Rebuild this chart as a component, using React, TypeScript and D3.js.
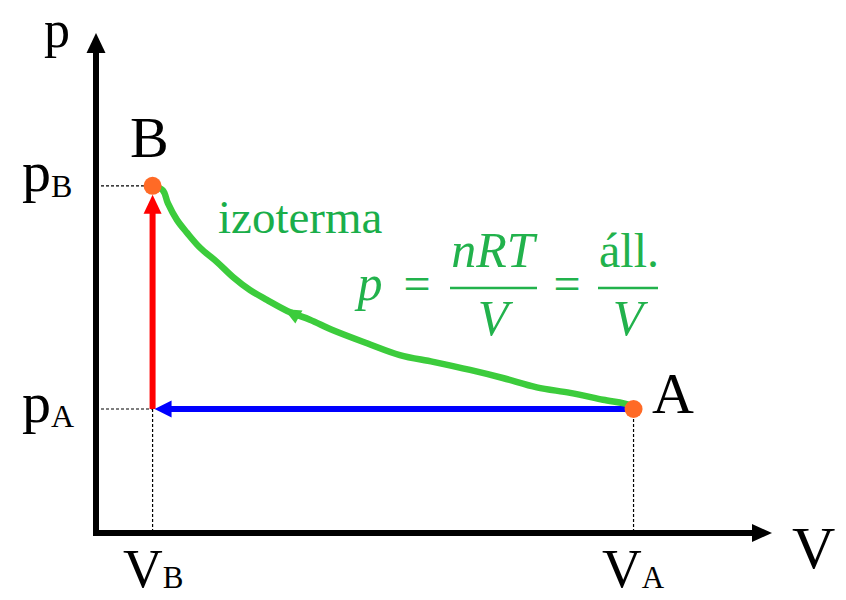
import React from "react";
import * as d3 from "d3";

// state points of the cycle (B = compressed, A = start)
const stateNames = ["B", "A"];
const stateV = [1, 9.5];
const stateP = [5.6, 2];

// isotherm, from B to A
const isoV = [1, 1.18, 1.27, 1.43, 1.61, 1.84, 2.14, 2.42, 2.72, 3.02, 3.43, 3.78, 4.19, 4.79, 5.37, 5.96, 6.61, 7.19, 7.79, 8.38, 8.96, 9.44, 9.5];
const isoP = [5.6, 5.53, 5.32, 5.05, 4.84, 4.6, 4.37, 4.13, 3.92, 3.76, 3.56, 3.44, 3.27, 3.06, 2.87, 2.76, 2.63, 2.5, 2.35, 2.26, 2.15, 2.06, 2];

// axis domains and labels
const vDomain = [0, 12];
const pDomain = [0, 8];
const axisLabels = ["V", "p"];
const curveLabel = "izoterma";

export default function App() {
  const x = d3.scaleLinear().domain(vDomain).range([96, 775]);
  const y = d3.scaleLinear().domain(pDomain).range([533, 37]);

  const iso = isoV.map((v, i) => [x(v), y(isoP[i])] as [number, number]);
  const line = d3.line().curve(d3.curveCatmullRom.alpha(0.5));

  const [vB, vA] = stateV;
  const [pB, pA] = stateP;
  const x0 = x(0), y0 = y(0);

  // little arrow on the isotherm pointing back to B
  const k = 10;
  const [ax, ay] = iso[k];
  const [bx, by] = iso[k - 1];
  const len = Math.hypot(bx - ax, by - ay);
  const dx = (bx - ax) / len, dy = (by - ay) / len;
  const tip = [ax + dx * 7, ay + dy * 7];
  const base = [ax - dx * 10, ay - dy * 10];
  const nx = -dy, ny = dx;
  const curveArrow = `${tip[0]},${tip[1]} ${base[0] + nx * 7.5},${base[1] + ny * 7.5} ${base[0] - nx * 7.5},${base[1] - ny * 7.5}`;

  const dash = { stroke: "#000", strokeWidth: 1.2, strokeDasharray: "3,2" };
  const green = "#1aae4a";
  const fml = "#22b24c";

  return (
    <svg width={846} height={600} style={{ position: "absolute", left: 0, top: 0 }}>
      <style>{`text { font-family: "Liberation Serif", serif; }`}</style>

      {/* dashed guides */}
      <line x1={x0} x2={x(vB)} y1={y(pB)} y2={y(pB)} {...dash} />
      <line x1={x0} x2={x(vB)} y1={y(pA)} y2={y(pA)} {...dash} />
      <line x1={x(vB)} x2={x(vB)} y1={y(pA)} y2={y0} {...dash} />
      <line x1={x(vA)} x2={x(vA)} y1={y(pA)} y2={y0} {...dash} />

      {/* axes */}
      <path d={`M${x0},${y(pDomain[1]) + 15} L${x0},${y0} L${x(vDomain[1]) - 20},${y0}`} fill="none" stroke="#000" strokeWidth={6} strokeLinejoin="miter" />
      <polygon points={`${x0},${y(pDomain[1]) - 4} ${x0 - 9.5},${y(pDomain[1]) + 16} ${x0 + 9.5},${y(pDomain[1]) + 16}`} fill="#000" />
      <polygon points={`${x(vDomain[1]) - 3},${y0} ${x(vDomain[1]) - 23},${y0 - 9} ${x(vDomain[1]) - 23},${y0 + 9}`} fill="#000" />

      {/* isochoric pA -> pB at VB (red) */}
      <line x1={x(vB)} x2={x(vB)} y1={y(pA)} y2={y(pB) + 26} stroke="#ff0000" strokeWidth={6} />
      <polygon points={`${x(vB)},${y(pB) + 9} ${x(vB) - 9},${y(pB) + 28} ${x(vB) + 9},${y(pB) + 28}`} fill="#ff0000" />

      {/* isobaric VA -> VB at pA (blue) */}
      <line x1={x(vA)} x2={x(vB) + 16} y1={y(pA)} y2={y(pA)} stroke="#0000ff" strokeWidth={6} />
      <polygon points={`${x(vB) + 2},${y(pA)} ${x(vB) + 19},${y(pA) - 8.5} ${x(vB) + 19},${y(pA) + 8.5}`} fill="#0000ff" />

      {/* isotherm */}
      <path d={line(iso) ?? ""} fill="none" stroke="#3ccc3c" strokeWidth={6.5} strokeLinejoin="round" strokeLinecap="round" />
      <polygon points={curveArrow} fill="#3ccc3c" />

      {/* state points */}
      {stateNames.map((n, i) => (
        <circle key={n} cx={x(stateV[i])} cy={y(stateP[i])} r={9} fill="#ff6a26" />
      ))}

      {/* labels */}
      <text x={44} y={47} fontSize={52}>{axisLabels[1]}</text>
      <text x={792} y={568} fontSize={60}>{axisLabels[0]}</text>
      <text x={130} y={157} fontSize={58}>{stateNames[0]}</text>
      <text x={652} y={413} fontSize={58}>{stateNames[1]}</text>

      <text x={22} y={191} fontSize={58}>p<tspan fontSize={32} dy={6}>{stateNames[0]}</tspan></text>
      <text x={22} y={422} fontSize={58}>p<tspan fontSize={32} dy={5}>{stateNames[1]}</tspan></text>
      <text x={123} y={587} fontSize={55}>V<tspan fontSize={31} dy={1}>{stateNames[0]}</tspan></text>
      <text x={602} y={587} fontSize={55}>V<tspan fontSize={31} dy={1}>{stateNames[1]}</tspan></text>

      <text x={218} y={233} fontSize={47} fill={green}>{curveLabel}</text>

      {/* p = nRT/V = áll./V */}
      <g fill={fml} textAnchor="middle">
        <text x={370} y={300} fontSize={50} fontStyle="italic">p</text>
        <text x={417} y={300} fontSize={48}>=</text>
        <line x1={450} x2={537} y1={288} y2={288} stroke={fml} strokeWidth={2.5} />
        <text x={493} y={267} fontSize={50} fontStyle="italic">nRT</text>
        <text x={493} y={335} fontSize={50} fontStyle="italic">V</text>
        <text x={567} y={300} fontSize={48}>=</text>
        <line x1={598} x2={658} y1={288} y2={288} stroke={fml} strokeWidth={2.5} />
        <text x={629} y={267} fontSize={48}>áll.</text>
        <text x={628} y={335} fontSize={50} fontStyle="italic">V</text>
      </g>
    </svg>
  );
}
